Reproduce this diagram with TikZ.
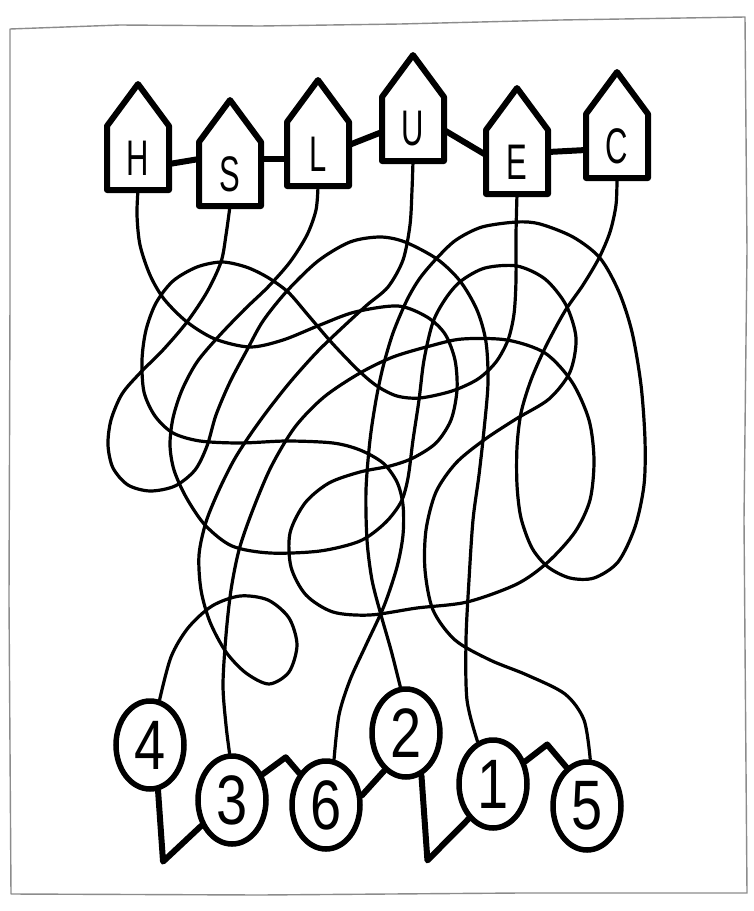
\documentclass[tikz,border=0pt]{standalone}
\usepackage{fontspec}
\usepackage{graphicx}
\setmainfont{Liberation Sans}
\usetikzlibrary{shapes.geometric}
\newcommand\letterfont{\fontsize{50}{50}\selectfont}
\newcommand\digitfont{\fontsize{70}{70}\selectfont}
\begin{document}
\begin{tikzpicture}[x=1pt,y=-1pt,
  wire/.style={line width=3.2pt, line cap=round, line join=round},
  wall/.style={draw=none, outer sep=0pt, minimum width=62pt, minimum height=64pt, inner sep=0pt, font=\letterfont},
  housepath/.style={line width=6pt, line join=round, line cap=round},
  num/.style={draw, ellipse, line width=5.5pt, minimum width=68pt, minimum height=88pt, inner sep=0pt, font=\digitfont},
  link/.style={line width=6pt, line join=round, line cap=round},
  frame/.style={draw=black!45, line width=1.4pt, line join=round}
]
\fill[white] (0,0) rectangle (754,911);
\useasboundingbox (0,0) rectangle (754,911);
\draw[frame] (10,29) -- (120,25) -- (260,26) -- (400,24) -- (560,20) -- (745,17) -- (747,250) -- (744,520) -- (747,893) -- (520,893) -- (260,895) -- (11,894) -- (9,600) -- (10,300) -- cycle;

% houses
\node[wall] (H) at (138,158) {\scalebox{0.62}[1]{H}};
\node[wall] (S) at (230,174) {\scalebox{0.62}[1]{S}};
\node[wall] (L) at (318,154) {\scalebox{0.62}[1]{L}};
\node[wall] (U) at (413,129) {\scalebox{0.62}[1]{U}};
\node[wall] (E) at (517,162) {\scalebox{0.62}[1]{E}};
\node[wall] (C) at (617,146) {\scalebox{0.62}[1]{C}};
\foreach \h in {H,S,L,U,E,C}{
  \draw[housepath] (\h.south west) -- (\h.north west) -- ++(31,-42) -- (\h.north east) -- (\h.south east) -- cycle;
}
\draw[link] ([yshift=-6pt]H.east) -- ([yshift=15pt]S.west);
\draw[link] ([yshift=15pt]S.east) -- ([yshift=-5pt]L.west);
\draw[link] ([yshift=9pt]L.east) -- ([yshift=-3pt]U.west);
\draw[link] ([yshift=-1pt]U.east) -- ([yshift=7pt]E.west);
\draw[link] ([yshift=10pt]E.east) -- ([yshift=-4pt]C.west);

% number circles
\node[num] (c4) at (150,745) {\scalebox{0.8}[1]{4}};
\node[num] (c3) at (232,800) {\scalebox{0.8}[1]{3}};
\node[num] (c6) at (326,805) {\scalebox{0.8}[1]{6}};
\node[num] (c2) at (406,733) {\scalebox{0.8}[1]{2}};
\node[num] (c1) at (493,784) {\scalebox{0.8}[1]{1}};
\node[num] (c5) at (587,806) {\scalebox{0.8}[1]{5}};
\draw[link] (c4.-80) -- ++(5,71) -- (c3.220);
\draw[link] (c3.40) -- ++(23,-17) -- (c6.130);
\draw[link] (c6.15) -- (c2.240);
\draw[link] (c2.-70) -- ++(6,85) -- (c1.235);
\draw[link] (c1.35) -- ++(22,-17) -- (c5.118);

% tangled wires
% H -> 3
\draw[wire] plot[smooth] coordinates {(H.south) (137,215) (140,245) (150,275) (164,299) (187,322) (215,339) (250,347) (283,340) (320,325) (355,312) (398,306) (427,317) (445,334) (455,360) (457,390) (451,420) (436,443) (413,458) (390,466) (360,472) (329,483) (305,503) (290,533) (291,567) (306,595) (333,612) (370,615) (417,608) (467,602) (517,584) (548,562) (575,532) (590,500) (594,460) (589,420) (572,382) (545,353) (507,340) (462,339) (430,346) (393,357) (360,373) (324,397) (295,427) (271,467) (252,512) (239,550) (231,590) (226,635) (223,685) (226,725) (c3.93)};
% E -> 6
\draw[wire] plot[smooth] coordinates {(E.south) (516,235) (516,280) (514,314) (508,340) (496,362) (478,379) (452,391) (420,398) (397,396) (377,386) (358,370) (332,343) (308,315) (288,292) (267,277) (246,267) (222,262) (197,267) (173,281) (156,303) (146,330) (142,360) (144,392) (155,416) (173,433) (200,441) (240,443) (287,441) (333,443) (360,450) (383,463) (397,482) (403,505) (403,535) (397,567) (384,606) (366,645) (350,680) (339,715) (c6.80)};
% C -> 2
\draw[wire] plot[smooth] coordinates {(C.south) (616,205) (610,232) (599,258) (583,285) (565,311) (546,346) (531,380) (521,413) (517,447) (517,485) (521,518) (532,548) (548,567) (570,578) (594,578) (618,562) (635,527) (644,485) (645,440) (641,385) (632,332) (619,292) (600,258) (573,237) (540,224) (517,222) (482,227) (456,240) (437,258) (420,278) (407,300) (393,333) (383,367) (376,400) (370,440) (366,490) (367,540) (372,580) (381,615) (391,650) (c2.97)};
% U -> 4
\draw[wire] plot[smooth] coordinates {(U.south) (412,190) (410,225) (403,260) (388,287) (367,305) (343,327) (317,352) (291,381) (268,410) (250,435) (234,460) (219,490) (206,522) (199,555) (201,590) (210,622) (226,652) (246,673) (269,684) (289,672) (297,645) (289,618) (268,600) (240,596) (212,606) (188,628) (171,657) (c4.78)};
% S -> 1
\draw[wire] plot[smooth] coordinates {(S.south) (226,235) (221,262) (207,292) (187,322) (163,350) (140,373) (122,394) (111,420) (108,445) (113,468) (128,485) (150,491) (175,486) (195,470) (207,446) (216,415) (230,382) (247,350) (263,321) (287,291) (318,261) (350,242) (380,237) (405,242) (437,259) (460,281) (477,310) (486,342) (488,383) (484,430) (479,475) (473,520) (469,580) (466,640) (467,700) (c1.110)};
% L -> 5
\draw[wire] plot[smooth] coordinates {(L.south) (316,210) (307,235) (290,262) (268,287) (245,309) (219,336) (197,362) (182,390) (173,418) (170,445) (174,470) (186,497) (205,525) (232,546) (270,553) (320,551) (360,541) (385,523) (401,502) (408,478) (413,440) (419,400) (424,360) (433,322) (446,298) (461,281) (485,268) (517,266) (545,279) (566,305) (576,338) (570,372) (549,399) (516,419) (484,440) (456,463) (436,492) (426,530) (425,570) (433,610) (455,640) (490,660) (527,675) (565,694) (584,720) (c5.86)};
\end{tikzpicture}
\end{document}
